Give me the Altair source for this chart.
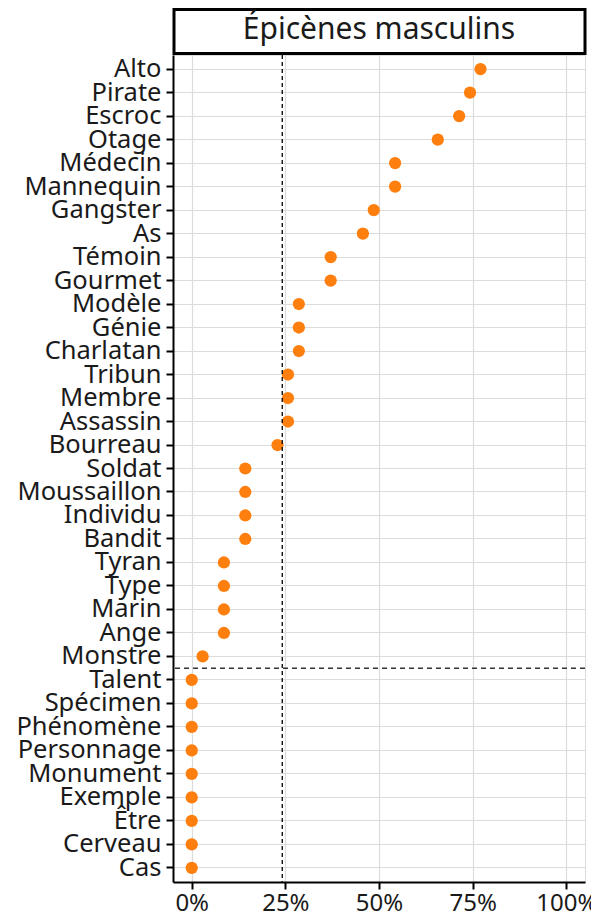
import altair as alt
import pandas as pd

words = ["Alto", "Pirate", "Escroc", "Otage", "Médecin", "Mannequin", "Gangster", "As",
         "Témoin", "Gourmet", "Modèle", "Génie", "Charlatan", "Tribun", "Membre", "Assassin",
         "Bourreau", "Soldat", "Moussaillon", "Individu", "Bandit", "Tyran", "Type", "Marin",
         "Ange", "Monstre", "Talent", "Spécimen", "Phénomène", "Personnage", "Monument",
         "Exemple", "Être", "Cerveau", "Cas"]
shares = [0.771, 0.743, 0.714, 0.657, 0.543, 0.543, 0.486, 0.457,
          0.371, 0.371, 0.286, 0.286, 0.286, 0.257, 0.257, 0.257,
          0.229, 0.143, 0.143, 0.143, 0.143, 0.086, 0.086, 0.086,
          0.086, 0.029, 0.0, 0.0, 0.0, 0.0, 0.0,
          0.0, 0.0, 0.0, 0.0]
panel_title = ["Épicènes masculins"]
split_word = ["Talent"]
x_ticks = [0, 0.25, 0.5, 0.75, 1.0]

df = pd.DataFrame({"word": words, "share": shares})
split_df = pd.DataFrame({"word": split_word})
title_df = pd.DataFrame({"label": panel_title})

W, H = 412, 827
FONT = "Noto Sans"
TXT = "#1a1a1a"

yscale = alt.Scale(type="band", domain=words, paddingInner=0, paddingOuter=0.1)
xscale = alt.Scale(domain=[-0.05, 1.05], nice=False, zero=False)

points = alt.Chart(df).mark_circle(size=150, color="#ff7f0e", opacity=1).encode(
    x=alt.X("share:Q", scale=xscale, title=None,
            axis=alt.Axis(values=x_ticks, format=".0%", grid=True, gridColor="#dcdcdc",
                          gridWidth=1.2, domainColor="black", domainWidth=2,
                          tickColor="black", tickWidth=2, tickSize=7, labelPadding=2,
                          labelFontSize=24, labelColor=TXT, labelFont=FONT)),
    y=alt.Y("word:N", sort=words, scale=yscale, bandPosition=0.5, title=None,
            axis=alt.Axis(grid=True, gridColor="#dcdcdc", gridWidth=1.2,
                          domainColor="black", domainWidth=2, tickColor="black",
                          tickWidth=2, tickSize=7, labelPadding=5, labelFontSize=25.5,
                          labelColor=TXT, labelFont=FONT, minExtent=165, maxExtent=165)),
)

mean_rule = alt.Chart(df).mark_rule(color="black", strokeDash=[4, 3], strokeWidth=1.3).encode(
    x=alt.X("mean(share):Q", scale=xscale)
)

split_rule = alt.Chart(split_df).mark_rule(color="#333333", strokeDash=[5, 4], strokeWidth=1.5).encode(
    y=alt.Y("word:N", sort=words, scale=yscale, bandPosition=0)
)

# facet strip drawn above the panel
strip_box = alt.Chart(title_df).mark_rect(fill="white", stroke="black", strokeWidth=3).encode(
    x=alt.value(1), x2=alt.value(W), y=alt.value(-45.5), y2=alt.value(-1.5)
)
strip_text = alt.Chart(title_df).mark_text(font=FONT, fontSize=30, color=TXT,
                                           align="center", baseline="middle").encode(
    text="label:N", x=alt.value(W / 2), y=alt.value(-25)
)

chart = alt.layer(points, mean_rule, split_rule, strip_box, strip_text).properties(
    width=W, height=H,
    padding={"left": 0, "top": 0, "right": -6, "bottom": 0}
).configure_view(stroke=None).configure(background="white")

chart.save("out.html", embed_options={"renderer": "svg", "actions": False})
